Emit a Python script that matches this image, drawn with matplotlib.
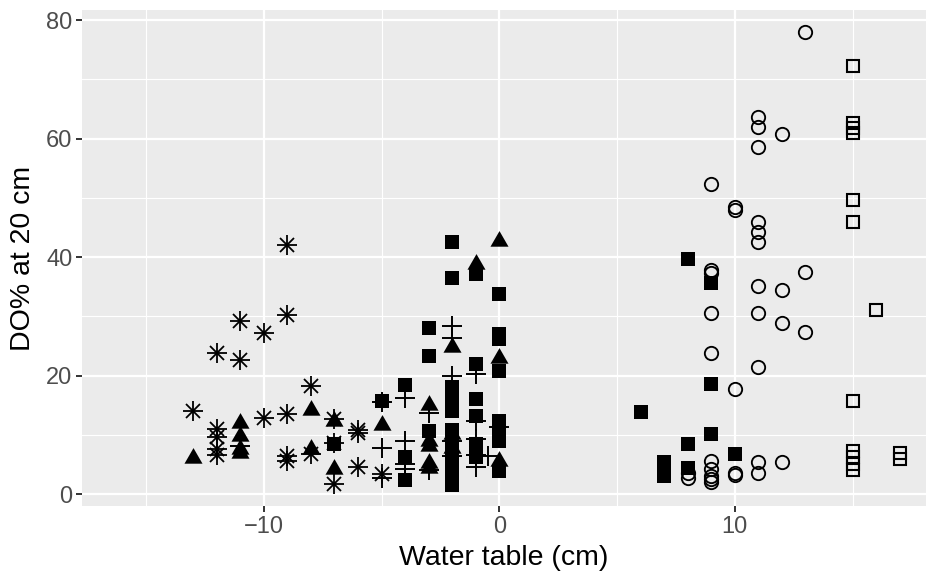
import matplotlib
matplotlib.use("Agg")
import matplotlib.pyplot as plt

# -------------------------
# DATA
# -------------------------
star_x = [-13, -12, -12, -12, -12, -12, -11, -11, -10, -10, -9, -9, -9, -9, -9,
          -8, -8, -7, -7, -7, -6, -6, -6, -5]
star_y = [14.1, 23.8, 11.0, 9.6, 7.6, 6.6, 29.3, 22.6, 27.2, 12.9, 42.0, 30.2, 13.5, 6.4, 5.6,
          18.3, 6.8, 12.6, 8.7, 1.7, 10.9, 10.4, 4.6, 3.4]

tri_x = [-13, -11, -11, -11, -11, -8, -8, -7, -7, -5, -3, -3, -3, -3, -3,
         -2, -2, -2, -1, 0, 0, 0]
tri_y = [6.1, 12.0, 9.8, 7.6, 7.0, 14.2, 7.6, 12.4, 4.2, 11.7, 15.0, 9.0, 8.1, 5.3, 4.4,
         24.8, 10.2, 7.8, 38.9, 42.8, 22.9, 5.6]

plus_x = [-11, -5, -5, -5, -4, -4, -4, -4, -3, -3, -2, -2, -2, -2, -2,
          -1, -1, -1, -1, -1, -0.5, 0]
plus_y = [8.1, 15.6, 7.8, 2.7, 16.3, 9.0, 5.1, 4.2, 13.7, 4.0, 28.4, 26.4, 20.0, 9.0, 6.4,
          20.3, 12.4, 9.3, 6.6, 4.5, 6.4, 11.4]

fsq_x = [-7, -5, -4, -4, -4, -3, -3, -3, -2, -2, -2, -2, -2, -2, -2, -2, -2, -2,
         -1, -1, -1, -1, -1, -1, -1, 0, 0, 0, 0, 0, 0, 0, 0,
         6, 7, 7, 7, 8, 8, 8, 9, 9, 9, 10]
fsq_y = [8.5, 15.8, 18.5, 6.2, 2.4, 28.0, 23.3, 10.7, 42.6, 36.5, 18.1, 16.0, 14.0, 10.8, 8.5, 6.2, 3.9, 1.5,
         37.2, 21.9, 16.0, 13.2, 8.4, 7.3, 6.2, 33.8, 27.0, 26.2, 20.8, 12.4, 10.7, 8.9, 3.9,
         13.9, 5.5, 4.2, 3.0, 39.6, 8.5, 4.4, 35.6, 18.6, 10.2, 6.8]

circ_x = [13, 11, 11, 12, 11, 9, 10, 10, 11, 11, 11, 9, 9, 13, 11, 12, 9, 11, 12, 13,
          9, 11, 10, 9, 9, 9, 9, 9, 8, 8, 10, 10, 11, 11, 12]
circ_y = [78.0, 63.7, 62.0, 60.7, 58.6, 52.4, 48.5, 47.9, 45.9, 44.2, 42.5, 37.8, 37.4, 37.5, 35.2, 34.4, 30.5, 30.5, 28.8, 27.3,
          23.9, 21.4, 17.8, 5.6, 4.2, 3.1, 2.5, 2.0, 3.6, 2.7, 3.2, 3.5, 5.4, 3.6, 5.4]

osq_x = [15, 15, 15, 15, 15, 15, 16, 15, 15, 15, 15, 15, 17, 17]
osq_y = [72.3, 62.6, 61.8, 61.0, 49.7, 46.0, 31.0, 15.8, 7.2, 6.2, 5.1, 4.0, 6.9, 5.9]

# -------------------------
# CREATE CHART
# -------------------------
plt.rcParams["font.family"] = ["Liberation Sans", "DejaVu Sans"]

fig = plt.figure(figsize=(9.26, 5.84), dpi=100)
ax = fig.add_axes([82 / 926, 78 / 584, 844 / 926, 496 / 584])
ax.set_facecolor("#EBEBEB")

ax.set_xlim(-17.72, 18.12)
ax.set_ylim(-2.0, 81.7)

# grid
ax.set_xticks([-10, 0, 10])
ax.set_xticks([-15, -5, 5, 15], minor=True)
ax.set_yticks([0, 20, 40, 60, 80])
ax.set_yticks([10, 30, 50, 70], minor=True)
ax.grid(True, which="major", color="white", linewidth=1.6)
ax.grid(True, which="minor", color="white", linewidth=0.8)
ax.set_axisbelow(True)
for s in ax.spines.values():
    s.set_visible(False)

ax.tick_params(which="major", length=4, width=1.4, color="#333333",
               labelsize=17, labelcolor="#4D4D4D", pad=3)
ax.tick_params(which="minor", length=0)
ax.set_xticklabels(["\u221210", "0", "10"])

# equilateral triangle like ggplot shape 17
tri_marker = [(-1, -0.577), (1, -0.577), (0, 1.155)]

ax.plot(star_x, star_y, linestyle="none", marker="+", ms=14.5, mew=1.3, color="black")
ax.plot(star_x, star_y, linestyle="none", marker="x", ms=10.3, mew=1.3, color="black")
ax.plot(tri_x, tri_y, linestyle="none", marker=tri_marker, ms=15, mew=0, color="black")
ax.plot(plus_x, plus_y, linestyle="none", marker="+", ms=14.5, mew=1.4, color="black")
ax.plot(fsq_x, fsq_y, linestyle="none", marker="s", ms=9.7, mew=0, color="black")
ax.plot(circ_x, circ_y, linestyle="none", marker="o", ms=9.6, mew=1.35,
        markerfacecolor="none", color="black")
ax.plot(osq_x, osq_y, linestyle="none", marker="s", ms=9.3, mew=1.5,
        markerfacecolor="none", color="black")

ax.set_xlabel("Water table (cm)", fontsize=20.5, color="black", labelpad=5)
ax.set_ylabel("DO% at 20 cm", fontsize=20.5, color="black", labelpad=7)

fig.savefig("out.png", dpi=100)
